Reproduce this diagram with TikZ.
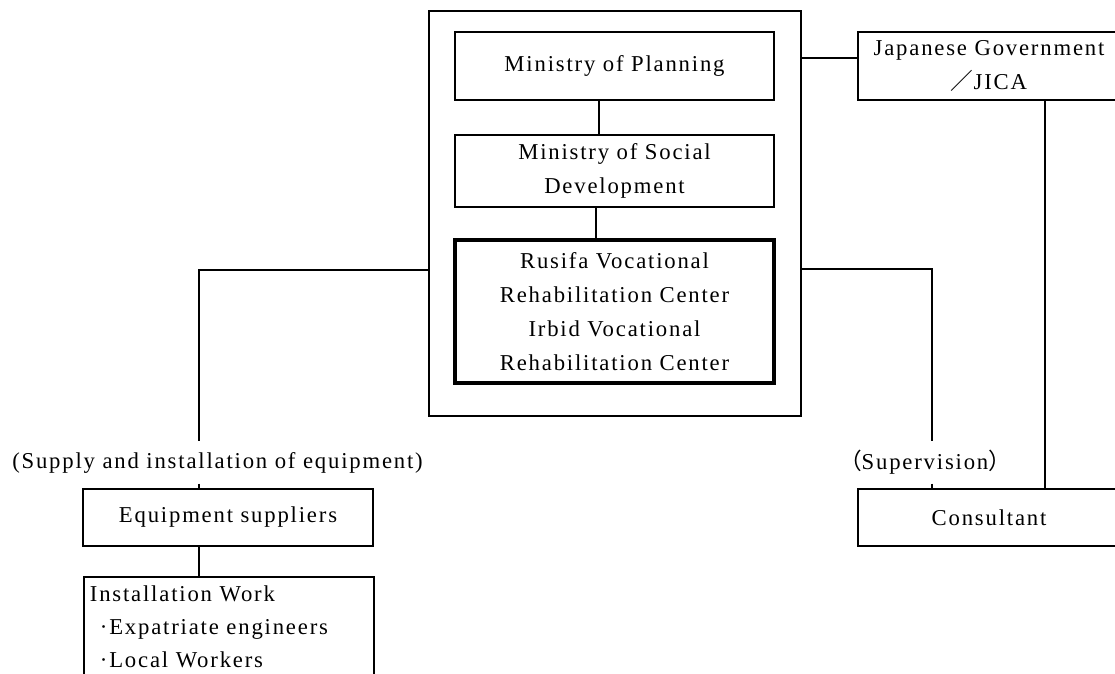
\documentclass[tikz,border=0pt]{standalone}
\usepackage{fontspec}
\setmainfont{Liberation Serif}[LetterSpace=8]
\newfontfamily\jpfont{Noto Sans CJK JP}
\usetikzlibrary{positioning}

\tikzset{every picture/.style={line width=1.2pt}}
\tikzset{
  every node/.style={font=\fontsize{22.7}{34}\selectfont},
  orgbox/.style={draw, line width=1.8pt, minimum width=319pt, inner sep=0pt, align=center},
  flowlabel/.style={inner sep=0pt, minimum height=41pt}
}

\begin{document}
\begin{tikzpicture}[x=1pt,y=1pt,yscale=-1,xscale=1]
\clip (0,0) rectangle (1115,673); %picture is 1115 x 673

%Rectangle [executing agency]
\node [draw, line width=1.8pt, minimum width=372pt, minimum height=405pt] (agency) at (615,213.5) {};

% Text Node
\node [orgbox, minimum height=68pt] (planning) at (614.5,66) {Ministry of Planning};
% Text Node
\node [orgbox, minimum height=72pt] (social) at (614.5,171) {Ministry of Social\\Development};
% Text Node
\node [orgbox, line width=3.5pt, minimum height=143pt] (centers) at (614.5,311.5) {Rusifa Vocational\\Rehabilitation Center\\Irbid Vocational\\Rehabilitation Center};
% Text Node
\node [orgbox, minimum width=262pt, minimum height=68pt] (jica) at (989,66) {Japanese Government\\{\jpfont ／}JICA};
% Text Node
\node [orgbox, minimum width=262pt, minimum height=57pt] (consultant) at (989,517.5) {Consultant};
% Text Node
\node [orgbox, minimum width=290pt, minimum height=57pt] (suppliers) at (228,517.5) {Equipment suppliers};
% Text Node
\node [orgbox, anchor=north west, minimum width=290pt, text width=278pt, inner xsep=6pt, inner ysep=9pt, align=left, font=\fontsize{22.7}{33}\selectfont] (install) at (83,576) {Installation Work\\\hspace*{10pt}·Expatriate engineers\\\hspace*{10pt}·Local Workers};

% Text Node
\node [flowlabel] (supplylabel) at (217.5,462.5) {(Supply and installation of equipment)};
% Text Node
\node [flowlabel] (supervision) at (925,462.5) {{\jpfont （}Supervision{\jpfont ）}};

%Straight Lines
\draw (planning.south -| 599,0) -- (social.north -| 599,0);
\draw (social.south -| 596,0) -- (centers.north -| 596,0);
\draw (agency.east |- 0,58) -- (jica.west |- 0,58);
\draw (jica.south -| 1045,0) -- (consultant.north -| 1045,0);
%Straight Lines
\draw (agency.east |- 0,269) -| (supervision.north -| 932,0);
\draw (supervision.south -| 932,0) -- (consultant.north -| 932,0);
%Straight Lines
\draw (agency.west |- 0,270) -| (supplylabel.north -| 199,0);
\draw (supplylabel.south -| 199,0) -- (suppliers.north -| 199,0);
\draw (suppliers.south -| 199,0) -- (install.north -| 199,0);
\end{tikzpicture}
\end{document}
